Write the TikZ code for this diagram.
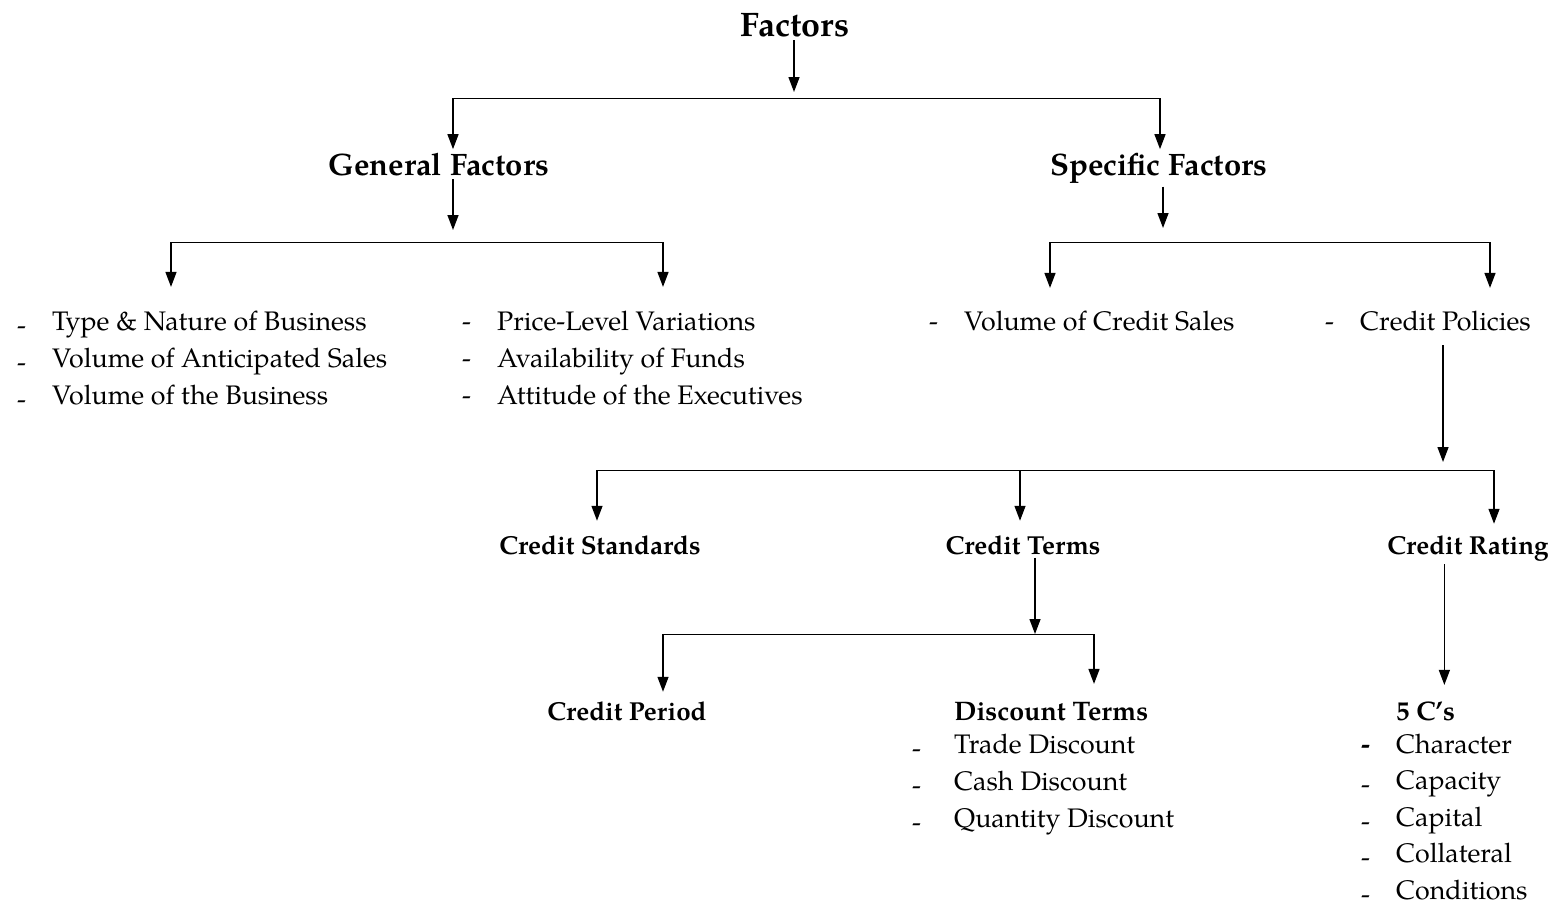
\documentclass[tikz,border=0pt]{standalone}
\usepackage{fontspec}
\setmainfont{texgyrepagella}[Extension=.otf, UprightFont=*-regular, BoldFont=*-bold, ItalicFont=*-italic, BoldItalicFont=*-bolditalic]
\usetikzlibrary{positioning, arrows.meta}

\begin{document}
\begin{tikzpicture}[x=1pt, y=-1pt,
    arrow/.style={-{Triangle[width=11pt, length=15pt]}, line width=1.4pt},
    bar/.style={line width=1pt},
    title/.style={font=\fontsize{34}{40}\selectfont\bfseries, anchor=base},
    head/.style={font=\fontsize{31}{37}\selectfont\bfseries, anchor=base},
    sub/.style={font=\fontsize{26}{31}\selectfont\bfseries, anchor=base},
    list/.style={font=\fontsize{26.8}{37}\selectfont, inner sep=0pt, anchor=base west}]

    \useasboundingbox (0,0) rectangle (1555,903);

    % Nodes
    \node[title] (factors) at (795,36) {Factors};
    \node[head] (general) at (439,175) {General Factors};
    \node[head] (specific) at (1159,175) {Specific Factors};
    \node[list] (genleft) at (17,330) {\begin{tabular}[t]{@{}p{35pt}@{}l@{}}
        \raisebox{-4pt}{-} & Type \& Nature of Business\\
        \raisebox{-4pt}{-} & Volume of Anticipated Sales\\
        \raisebox{-4pt}{-} & Volume of the Business
    \end{tabular}};
    \node[list] (genright) at (462,330) {\begin{tabular}[t]{@{}p{35pt}@{}l@{}}
        - & Price-Level Variations\\
        - & Availability of Funds\\
        - & Attitude of the Executives
    \end{tabular}};
    \node[list] (volsales) at (929,330) {\begin{tabular}[t]{@{}p{35pt}@{}l@{}}
        - & Volume of Credit Sales
    \end{tabular}};
    \node[list] (policies) at (1325,330) {\begin{tabular}[t]{@{}p{35pt}@{}l@{}}
        - & Credit Policies
    \end{tabular}};
    \node[sub] (standards) at (600,554) {Credit Standards};
    \node[sub] (terms) at (1023,554) {Credit Terms};
    \node[sub] (rating) at (1468,554) {Credit Rating};
    \node[sub] (period) at (627,720) {Credit Period};
    \node[list] (discount) at (912,720) {\begin{tabular}[t]{@{}p{42pt}@{}l@{}}
          & \textbf{Discount Terms}\\[-4pt]
        \raisebox{-4pt}{-} & Trade Discount\\
        \raisebox{-4pt}{-} & Cash Discount\\
        \raisebox{-4pt}{-} & Quantity Discount
    \end{tabular}};
    \node[list] (fivecs) at (1361,720) {\begin{tabular}[t]{@{}p{35pt}@{}l@{}}
          & \textbf{5 C’s}\\[-4pt]
        \textbf{-} & Character\\[-0.5pt]
        \raisebox{-4pt}{-} & Capacity\\[-0.5pt]
        \raisebox{-4pt}{-} & Capital\\[-0.5pt]
        \raisebox{-4pt}{-} & Collateral\\[-0.5pt]
        \raisebox{-4pt}{-} & Conditions
    \end{tabular}};

    % Bars
    \coordinate (b0l) at (453,98);  \coordinate (b0r) at (1160,98);  \coordinate (j0) at (794,98);
    \coordinate (b1l) at (171,242); \coordinate (b1r) at (663,242);  \coordinate (j1) at (453,242);
    \coordinate (b2l) at (1050,242); \coordinate (b2r) at (1490,242); \coordinate (j2) at (1163,242);
    \coordinate (b3l) at (597,470); \coordinate (b3r) at (1494,470); \coordinate (j3) at (1443,470);
    \coordinate (b3m) at (1020,470);
    \coordinate (b4l) at (663,634); \coordinate (b4r) at (1094,634); \coordinate (j4) at (1035,634);
    \draw[bar] (b0l) -- (b0r);
    \draw[bar] (b1l) -- (b1r);
    \draw[bar] (b2l) -- (b2r);
    \draw[bar] (b3l) -- (b3r);
    \draw[bar] (b4l) -- (b4r);

    % Arrows
    \draw[arrow, shorten >=6pt] (factors.south -| j0) -- (j0);
    \draw[arrow] (b0l) -- (b0l |- general.north);
    \draw[arrow] (b0r) -- (b0r |- specific.north);
    \draw[arrow, shorten >=12pt] (general.south -| j1) -- (j1);
    \draw[arrow, shorten >=17pt] (b1l) -- (b1l |- genleft.north);
    \draw[arrow, shorten >=17pt] (b1r) -- (b1r |- genright.north);
    \draw[arrow, shorten >=14pt] (specific.south -| j2) -- (j2);
    \draw[arrow, shorten >=16pt] (b2l) -- (b2l |- volsales.north);
    \draw[arrow, shorten >=16pt] (b2r) -- (b2r |- policies.north);
    \draw[arrow, shorten <=4pt, shorten >=8pt] (policies.south -| j3) -- (j3);
    \draw[arrow, shorten >=11pt] (b3l) -- (b3l |- standards.north);
    \draw[arrow, shorten >=11pt] (b3m) -- (b3m |- terms.north);
    \draw[arrow, shorten >=8pt] (b3r) -- (b3r |- rating.north);
    \draw[arrow] (terms.south -| j4) -- (j4);
    \draw[arrow, shorten >=6pt] (b4l) -- (b4l |- period.north);
    \draw[arrow, shorten >=10pt] (b4r) -- (b4r |- discount.north);
    \draw[arrow, shorten >=9pt] (fivecs.north |- rating.south) -- (fivecs.north);
\end{tikzpicture}
\end{document}
